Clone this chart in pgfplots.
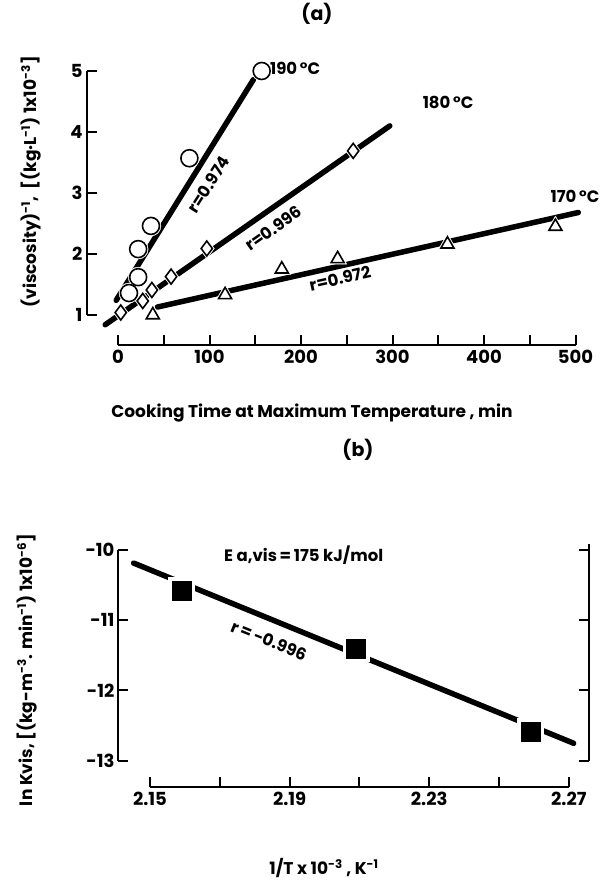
\documentclass[border=0pt]{standalone}
\usepackage{fontspec}
\setmainfont{Poppins}
\usepackage{pgfplots}
\pgfplotsset{compat=1.18}
\newcommand{\tl}{\fontsize{18}{18}\selectfont\bfseries}
\newcommand{\lab}{\fontsize{17}{18}\selectfont\bfseries}
\newcommand{\ann}{\fontsize{16.5}{17}\selectfont\bfseries}
\begin{document}
\begin{tikzpicture}[x=1pt,y=1pt]
\useasboundingbox (0,0) rectangle (600,881);
% ---------------- panel (a)
\begin{axis}[at={(87pt,536pt)}, anchor=south west, scale only axis,
  width=503pt, height=286.2pt,
  xmin=-33.9, xmax=515.8, ymin=0.508, ymax=5.2,
  axis x line*=bottom, axis y line*=left, axis line style={draw=none},
  xtick={0,50,...,500}, xticklabels={0,,100,,200,,300,,400,,500},
  ytick={1,2,3,4,5},
  tick align=inside, major tick length=10pt,
  tick style={line width=2pt, black},
  ticklabel style={font=\tl},
  /pgf/number format/assume math mode=true,
  xticklabel style={yshift=-2pt},
  yticklabel style={xshift=-1pt},
  clip=false]
\draw[line width=2.5pt] (axis cs:0,0.508) -- (axis cs:500,0.508);
\draw[line width=2.5pt] (axis cs:-33.9,1) -- (axis cs:-33.9,5);
% regression lines
\addplot[line width=5.5pt, line cap=round] coordinates {(-2,1.24) (148,4.86)};
\addplot[line width=5.5pt, line cap=round] coordinates {(-14,0.84) (297,4.10)};
\addplot[line width=5.5pt, line cap=round] coordinates {(43,1.13) (503,2.68)};
% halos
\addplot[only marks, mark=*, mark size=10pt, white] coordinates {(12,1.36) (22,1.62) (22,2.08) (36,2.46) (78,3.57) (157,5.0)};
\addplot[only marks, mark=diamond*, mark size=10pt, white] coordinates {(3,1.04) (27,1.23) (37,1.41) (58,1.63) (97,2.09) (257,3.69)};
\addplot[only marks, mark=triangle*, mark size=10.5pt, white] coordinates {(38,1.0) (117,1.33) (179,1.75) (240,1.92) (360,2.16) (478,2.45)};
% markers
\addplot[only marks, mark=*, mark size=8.5pt, mark options={draw=black, fill=white, line width=1.6pt}] coordinates {(12,1.36) (22,1.62) (22,2.08) (36,2.46) (78,3.57) (157,5.0)};
\addplot[only marks, mark=diamond*, mark size=7.5pt, mark options={draw=black, fill=white, line width=1.6pt}] coordinates {(3,1.04) (27,1.23) (37,1.41) (58,1.63) (97,2.09) (257,3.69)};
\addplot[only marks, mark=triangle*, mark size=7.5pt, mark options={draw=black, fill=white, line width=1.6pt}] coordinates {(38,1.0) (117,1.33) (179,1.75) (240,1.92) (360,2.16) (478,2.45)};
% annotations
\node[anchor=west, font=\ann, inner sep=0pt] at (axis cs:166,5.04) {190\,°C};
\node[font=\ann, inner sep=0pt] at (axis cs:360.7,4.48) {180\,°C};
\node[font=\ann, inner sep=0pt] at (axis cs:499.5,2.94) {170\,°C};
\node[font=\ann, inner sep=0pt, rotate=57.5] at (axis cs:99,3.14) {r=0.974};
\node[font=\ann, inner sep=0pt, rotate=35] at (axis cs:170,2.42) {r=0.996};
\node[font=\ann, inner sep=0pt, rotate=12.6] at (axis cs:242.6,1.60) {r=0.972};
\end{axis}
% ---------------- panel (b)
\begin{axis}[at={(118pt,94pt)}, anchor=south west, scale only axis,
  width=471pt, height=251.4pt,
  xmin=2.14083, xmax=2.27579, ymin=-13.371, ymax=-9.8,
  axis x line*=bottom, axis y line*=left, axis line style={draw=none},
  xtick={2.15,2.17,2.19,2.21,2.23,2.25,2.27},
  xticklabels={2.15,,2.19,,2.23,,2.27},
  ytick={-13,-12,-11,-10}, yticklabels={-13,-12,-11,-10},
  tick align=inside, major tick length=10pt,
  tick style={line width=2pt, black},
  ticklabel style={font=\tl},
  xticklabel style={yshift=-2pt},
  clip=false]
\draw[line width=2.5pt] (axis cs:2.15,-13.371) -- (axis cs:2.27,-13.371);
\draw[line width=2.5pt] (axis cs:2.14083,-10) -- (axis cs:2.14083,-13);
\draw[line width=2.5pt] (axis cs:2.27579,-9.92) -- (axis cs:2.27579,-13);
\draw[line width=2pt] (axis cs:2.27579,-10) -- ++(-10pt,0pt);
\draw[line width=2pt] (axis cs:2.27579,-11) -- ++(-10pt,0pt);
\draw[line width=2pt] (axis cs:2.27579,-12) -- ++(-10pt,0pt);
\draw[line width=2pt] (axis cs:2.27579,-13) -- ++(-10pt,0pt);
\addplot[line width=5.5pt, line cap=round] coordinates {(2.1453,-10.19) (2.2714,-12.75)};
\addplot[only marks, mark=square*, mark size=13pt, white] coordinates {(2.159,-10.58) (2.209,-11.40) (2.259,-12.58)};
\addplot[only marks, mark=square*, mark size=9.5pt, black] coordinates {(2.159,-10.58) (2.209,-11.40) (2.259,-12.58)};
\node[anchor=west, font=\ann, inner sep=0pt] at (axis cs:2.1712,-10.075) {E a,vis\,=\,175 kJ/mol};
\node[font=\ann, inner sep=0pt, rotate=-22] at (axis cs:2.1841,-11.29) {r\,=\,-0.996};
\end{axis}
% ---------------- titles and axis labels
\node[font=\fontsize{19}{19}\selectfont\bfseries] at (317,867) {(a)};
\node[font=\fontsize{19}{19}\selectfont\bfseries] at (358,431) {(b)};
\node[font=\lab, rotate=90] at (31,699) {(viscosity)\textsuperscript{-1}, \ [(kg·L\textsuperscript{-1}) 1x10\textsuperscript{-3}]};
\node[font=\lab] at (312,468) {Cooking Time at Maximum Temperature , min};
\node[font=\lab, rotate=90] at (27,211) {ln Kvis, [(kg-m\textsuperscript{-3}. min\textsuperscript{-1}) 1x10\textsuperscript{-6}]};
\node[font=\lab] at (324,13) {1/T x 10\textsuperscript{-3} , K\textsuperscript{-1}};
\end{tikzpicture}
\end{document}
